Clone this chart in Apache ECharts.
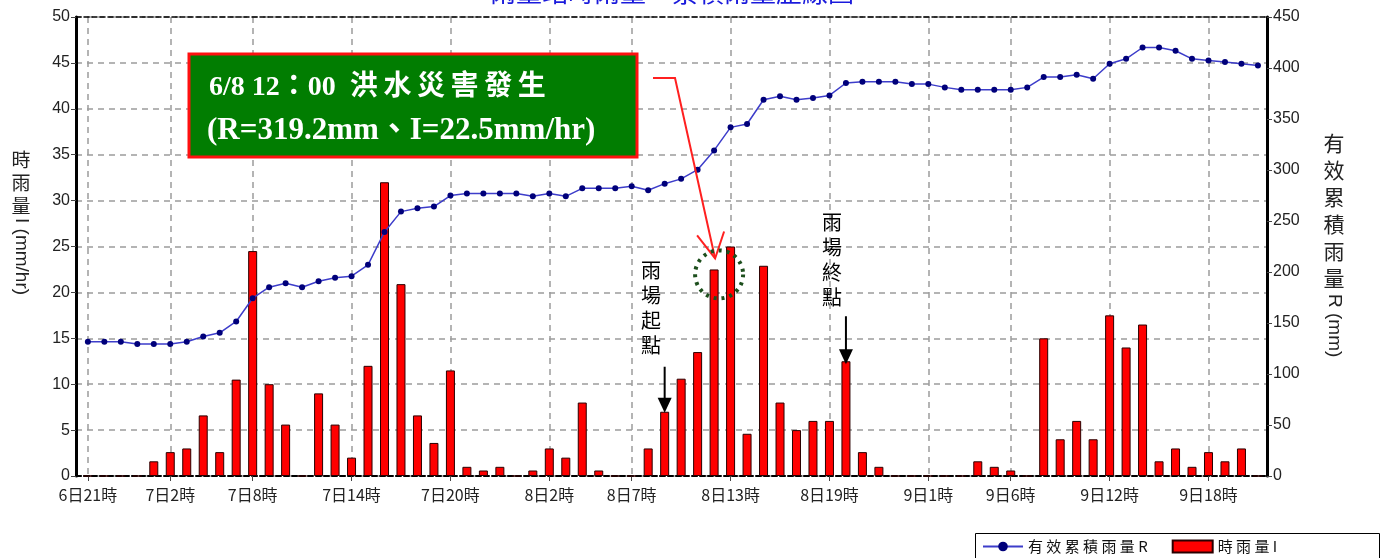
<!DOCTYPE html>
<html><head><meta charset="utf-8">
<script src="https://cdn.jsdelivr.net/npm/echarts@6/dist/echarts.min.js"></script>
<style>html,body{margin:0;padding:0;background:#fff}#c{width:1386px;height:558px}</style>
</head><body><div id="c"></div>
<script>
// hourly rainfall I (mm/hr), one value per hour step
const hourlyI = [0,0,0,0,1.6,2.6,3.0,6.6,2.6,10.5,24.5,10.0,5.6,0,9.0,5.6,2.0,12.0,32.0,20.9,
  6.6,3.6,11.5,1.0,0.6,1.0,0,0.6,3.0,2.0,8.0,0.6,0,0,3.0,7.0,10.6,13.5,22.5,25.0,
  4.6,22.9,8.0,5.0,6.0,6.0,12.5,2.6,1.0,0,0,0,0,0,1.6,1.0,0.6,0,15.0,4.0,
  6.0,4.0,17.5,14.0,16.5,1.6,3.0,1.0,2.6,1.6,3.0,0];
// effective cumulative rainfall R (mm)
const cumR = [131.6,131.6,131.6,129.3,129.3,129.3,131.6,136.8,140.4,151.5,
  174.3,185.1,189.0,185.1,191.0,194.3,195.9,207.0,239.3,259.2,
  262.5,264.1,274.9,276.9,276.9,276.9,276.9,274.2,276.9,274.2,
  282.0,282.0,282.0,284.0,280.1,286.6,291.3,300.3,319.2,341.8,
  345.1,368.9,372.2,368.9,370.6,373.1,385.3,386.5,386.5,386.5,
  384.2,384.2,381.0,378.7,378.7,378.7,378.7,381.0,391.1,391.1,
  393.4,389.5,404.1,409.0,420.1,420.1,416.9,409.0,407.4,405.8,
  404.1,402.5];
const tickIdx = [0,5,10,16,22,28,33,39,45,51,56,62,68];
const tickText = ['6日21時','7日2時','7日8時','7日14時','7日20時','8日2時','8日7時','8日13時','8日19時','9日1時','9日6時','9日12時','9日18時'];
const nameR = '有效累積雨量R';
const nameI = '時雨量I';
const eventIdx = 38;   // 6/8 12:00 flood event
const startIdx = 35;   // rain event start
const endIdx = 46;     // rain event end

const labelMap = {};
tickIdx.forEach((k, j) => { labelMap[k] = tickText[j]; });
const barData = hourlyI.map((v, i) => [i, v]);
const lineData = cumR.map((v, i) => [i, v]);

const sans = '"Liberation Sans", Arial, sans-serif';
const cjk = '"Noto Sans CJK TC", "Noto Sans CJK SC", sans-serif';
const serif = '"Liberation Serif", "Noto Sans CJK TC", serif';
const gridColor = '#9c9c9c';

const chart = echarts.init(document.getElementById('c'));
chart.setOption({
  animation: false,
  backgroundColor: '#fff',
  grid: { left: 76, right: 119, top: 17, bottom: 82 },
  legend: {
    left: 982, top: 539, width: 400, orient: 'horizontal',
    data: [{ name: nameR }, { name: nameI, icon: 'rect' }],
    itemWidth: 40, itemHeight: 12, itemGap: 24,
    padding: 0,
    formatter: n => n.split('').join(' '),
    textStyle: { fontFamily: cjk, fontSize: 15, color: '#111' }
  },
  xAxis: [{
    type: 'value', min: -0.72, max: 71.55,
    axisLine: { show: true, onZero: false, lineStyle: { color: '#000', width: 2, type: [5, 3] } },
    axisTick: { show: true, customValues: tickIdx, length: 5, lineStyle: { color: '#444' } },
    axisLabel: { customValues: tickIdx, formatter: v => labelMap[v] || '', fontFamily: cjk, fontSize: 16, color: '#222', margin: 11 },
    splitLine: { show: true, lineStyle: { color: gridColor, type: [6, 5], width: 1.5 } }
  }, {
    type: 'value', position: 'top', min: -0.72, max: 71.55,
    axisLine: { show: true, onZero: false, lineStyle: { color: '#000', width: 1.5, type: [5, 3] } },
    axisTick: { show: false }, axisLabel: { show: false }, splitLine: { show: false }
  }],
  yAxis: [{
    type: 'value', min: 0, max: 50, interval: 5, position: 'left',
    axisLine: { show: true, onZero: false, lineStyle: { color: '#000', width: 3 } },
    axisTick: { show: true, length: 5, lineStyle: { color: '#444' } },
    axisLabel: { fontFamily: sans, fontSize: 16, color: '#222', margin: 6 },
    splitLine: { show: true, lineStyle: { color: gridColor, type: [6, 5], width: 1.5 } }
  }, {
    type: 'value', min: 0, max: 450, interval: 50, position: 'right',
    axisLine: { show: true, onZero: false, lineStyle: { color: '#000', width: 3 } },
    axisTick: { show: true, length: 5, lineStyle: { color: '#444' } },
    axisLabel: { fontFamily: sans, fontSize: 16, color: '#222', margin: 6 },
    splitLine: { show: false }
  }],
  series: [{
    name: nameI, type: 'bar', xAxisIndex: 0, yAxisIndex: 0, data: barData,
    barWidth: 9,
    itemStyle: { color: '#ff0000', borderColor: '#2a0000', borderWidth: 1 }
  }, {
    name: nameR, type: 'line', xAxisIndex: 0, yAxisIndex: 1, data: lineData,
    symbol: 'circle', symbolSize: 6, z: 5,
    lineStyle: { color: '#3d3dca', width: 1.5 },
    itemStyle: { color: '#00007a' }
  }]
});

// annotations anchored to data positions
const pEvt = chart.convertToPixel({ xAxisIndex: 0, yAxisIndex: 0 }, [eventIdx, hourlyI[eventIdx]]);
const pSt = chart.convertToPixel({ xAxisIndex: 0, yAxisIndex: 0 }, [startIdx, hourlyI[startIdx]]);
const pEn = chart.convertToPixel({ xAxisIndex: 0, yAxisIndex: 0 }, [endIdx, hourlyI[endIdx]]);

function downArrow(x, yTip, len) {
  return [{
    type: 'line', shape: { x1: x, y1: yTip - len, x2: x, y2: yTip - 10 },
    style: { stroke: '#000', lineWidth: 2 }, z: 20
  }, {
    type: 'polygon', shape: { points: [[x - 7, yTip - 15], [x + 7, yTip - 15], [x, yTip]] },
    style: { fill: '#000' }, z: 20
  }];
}

const tip = [pEvt[0] + 1, pEvt[1] - 11];
const graphics = [
  // partially visible title
  { type: 'text', left: 490, top: -21, style: { text: '雨量站時雨量－累積雨量歷線圖', font: '26px ' + cjk, fill: '#1a1adc' }, z: 20 },
  // legend frame
  { type: 'rect', shape: { x: 975.5, y: 533.5, width: 404, height: 40 }, style: { fill: null, stroke: '#000', lineWidth: 1 }, z: 1 },
  // event box
  { type: 'rect', shape: { x: 189, y: 54, width: 448, height: 103 }, style: { fill: '#017d01', stroke: '#ff1010', lineWidth: 3 }, z: 20 },
  { type: 'text', x: 209, y: 88, style: { text: '6/8 12：00  洪\u2009水\u2009災\u2009害\u2009發\u2009生', font: 'bold 28px ' + serif, fill: '#fff', verticalAlign: 'middle' }, z: 21 },
  { type: 'text', x: 207, y: 131, style: { text: '(R=319.2mm、I=22.5mm/hr)', font: 'bold 31px ' + serif, fill: '#fff', verticalAlign: 'middle' }, z: 21 },
  // red pointer
  { type: 'polyline', shape: { points: [[653, 78], [675, 78], tip] }, style: { stroke: '#ff2020', lineWidth: 2, fill: null }, z: 20 },
  { type: 'polyline', shape: { points: [[tip[0] - 18, tip[1] - 23], tip, [tip[0] + 9, tip[1] - 27]] }, style: { stroke: '#ff2020', lineWidth: 2, fill: null }, z: 20 },
  // dotted circle
  { type: 'circle', shape: { cx: pEvt[0] + 5, cy: pEvt[1] + 5, r: 24 }, style: { fill: null, stroke: '#1d4f1d', lineWidth: 4, lineDash: [3, 5] }, z: 20 },
  // vertical labels
  { type: 'text', x: 651, y: 258, style: { text: '雨\n場\n起\n點', font: '20px ' + cjk, lineHeight: 25, fill: '#000', align: 'center' }, z: 20 },
  { type: 'text', x: 832, y: 210, style: { text: '雨\n場\n終\n點', font: '20px ' + cjk, lineHeight: 25, fill: '#000', align: 'center' }, z: 20 },
  ...downArrow(pSt[0], pSt[1] + 1, 46),
  ...downArrow(pEn[0], pEn[1] + 3, 48),
  // axis names (vertical writing)
  { type: 'text', x: 21, y: 148, style: { text: '時\n雨\n量', font: '19px ' + cjk, lineHeight: 23, fill: '#222', align: 'center' }, z: 20 },
  { type: 'text', x: 21, y: 218, rotation: -Math.PI / 2, style: { text: 'I (mm/hr)', font: '19px ' + sans, fill: '#222', align: 'left', verticalAlign: 'middle' }, z: 20 },
  { type: 'text', x: 1334, y: 130, style: { text: '有\n效\n累\n積\n雨\n量', font: '21px ' + cjk, lineHeight: 27, fill: '#222', align: 'center' }, z: 20 },
  { type: 'text', x: 1334, y: 294, rotation: -Math.PI / 2, style: { text: 'R (mm)', font: '19px ' + sans, fill: '#222', align: 'left', verticalAlign: 'middle' }, z: 20 }
];
chart.setOption({ graphic: graphics });
</script>
</body></html>
